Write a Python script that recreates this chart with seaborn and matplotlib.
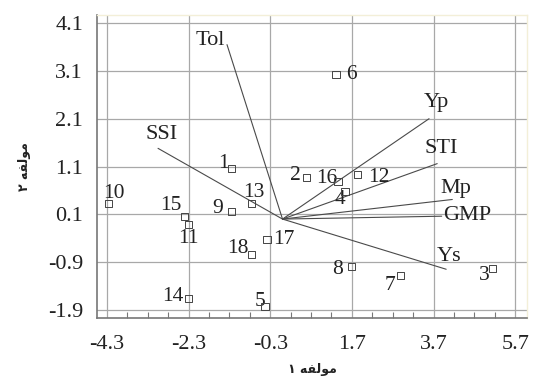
import matplotlib
matplotlib.use("Agg")
import matplotlib.pyplot as plt
import seaborn as sns
import numpy as np
import pandas as pd
from matplotlib.ticker import FixedLocator

# ---- data ----
genotypes = ["1", "2", "3", "4", "5", "6", "7", "8", "9", "10",
             "11", "12", "13", "14", "15", "16", "17", "18"]
pc1 = [-1.24, 0.58, 5.14, 1.53, -0.43, 1.31, 2.88, 1.70, -1.24, -4.27,
       -2.31, 1.83, -0.75, -2.31, -2.41, 1.36, -0.38, -0.75]
pc2 = [1.06, 0.87, -1.03, 0.58, -1.82, 3.02, -1.19, -1.00, 0.16, 0.33,
       -0.11, 0.94, 0.33, -1.67, 0.06, 0.79, -0.42, -0.74]

traits = ["Tol", "SSI", "Yp", "STI", "Mp", "GMP", "Ys"]
trait_pc1 = [-1.36, -3.05, 3.59, 3.79, 4.16, 3.90, 4.01]
trait_pc2 = [3.65, 1.48, 2.10, 1.16, 0.41, 0.06, -1.05]

xticks = [-4.3, -2.3, -0.3, 1.7, 3.7, 5.7]
yticks = [-1.9, -0.9, 0.1, 1.1, 2.1, 3.1, 4.1]
xlabel = "مولفه ۱"
ylabel = "مولفه ۲"

# ---- styling (offsets in pixels) ----
pt_offsets = {
    "1": (-3, 5, "right"), "2": (-5, 2, "right"), "3": (-3, -7, "right"),
    "4": (0, -8, "right"), "5": (0, 5, "right"), "6": (10, 0, "left"),
    "7": (-5, -10, "right"), "8": (-9, -3, "right"), "9": (-9, 3, "right"),
    "10": (-5, 10, "left"), "11": (0, -14, "center"), "12": (11, -3, "left"),
    "13": (2, 11, "center"), "14": (-5, 2, "right"), "15": (-3, 11, "right"),
    "16": (-1, 3, "right"), "17": (6, 0, "left"), "18": (-3, 6, "right"),
}
tr_offsets = {
    "Tol": (-17, 4), "SSI": (4, 14), "Yp": (7, 16), "STI": (4, 15),
    "Mp": (4, 11), "GMP": (25, 1), "Ys": (3, 13),
}


def shape_fa(s):
    # Persian presentation forms in visual order (matplotlib does no text shaping)
    forms = {"مولفه": "\ufee3\ufeee\ufedf\ufed4\ufeea"}
    word, num = s.split(" ")
    return num + " " + forms[word][::-1]


sns.set_theme(style="white")
plt.rcParams["font.family"] = ["Liberation Serif", "DejaVu Serif", "DejaVu Sans"]

fig = plt.figure(figsize=(5.36, 3.80), dpi=100)
ax = fig.add_axes([97 / 536, 1 - 318 / 380, (527 - 97) / 536, (318 - 15) / 380])

df = pd.DataFrame({"g": genotypes, "pc1": pc1, "pc2": pc2})
tdf = pd.DataFrame({"t": traits, "x": trait_pc1, "y": trait_pc2})

line_col = "#4a4a4a"
for _, r in tdf.iterrows():
    ax.plot([0, r["x"]], [0, r["y"]], color=line_col, lw=0.8, zorder=3)
    dx, dy = tr_offsets[r["t"]]
    ax.annotate(r["t"], (r["x"], r["y"]), xytext=(dx, dy), textcoords="offset pixels",
                ha="center", va="center", fontsize=16, color="#222222", zorder=4)

sns.scatterplot(data=df, x="pc1", y="pc2", marker="s", s=26, facecolor="none",
                edgecolor="#444444", linewidth=0.7, ax=ax, zorder=5)

for _, r in df.iterrows():
    dx, dy, ha = pt_offsets[r["g"]]
    ax.annotate(r["g"], (r["pc1"], r["pc2"]), xytext=(dx, dy), textcoords="offset pixels",
                ha=ha, va="center", fontsize=15.5, color="#222222", zorder=4)

ax.set_xlim(-4.545, 5.99)
ax.set_ylim(-2.07, 4.27)
ax.xaxis.set_major_locator(FixedLocator(xticks))
ax.yaxis.set_major_locator(FixedLocator(yticks))
ax.xaxis.set_minor_locator(FixedLocator(list(np.arange(-4.3, 6.0, 0.5))))
ax.set_xticklabels([f"{v:.1f}" for v in xticks])
ax.set_yticklabels([f"{v:.1f}" for v in yticks])
ax.grid(True, which="major", color="#a8a8a8", lw=0.9)
ax.tick_params(axis="x", which="major", direction="in", length=8, width=0.9,
               color="#777777", labelsize=16, pad=12, labelcolor="#222222")
ax.tick_params(axis="x", which="minor", direction="in", length=4, width=0.8,
               color="#777777", bottom=True)
ax.tick_params(axis="y", which="major", direction="out", length=0, labelsize=16,
               pad=10, labelcolor="#222222", left=True)
for side in ["left", "bottom"]:
    ax.spines[side].set_color("#777777")
    ax.spines[side].set_linewidth(1.2)
for side in ["top", "right"]:
    ax.spines[side].set_color("#f3efd8")
    ax.spines[side].set_linewidth(1.0)

ax.set_xlabel(shape_fa(xlabel), fontsize=9, fontweight="bold", family="DejaVu Sans",
              labelpad=7, color="#222222")
ax.set_ylabel(shape_fa(ylabel), fontsize=9, fontweight="bold", family="DejaVu Sans",
              labelpad=12, color="#222222")

fig.savefig("out.png", dpi=100)
